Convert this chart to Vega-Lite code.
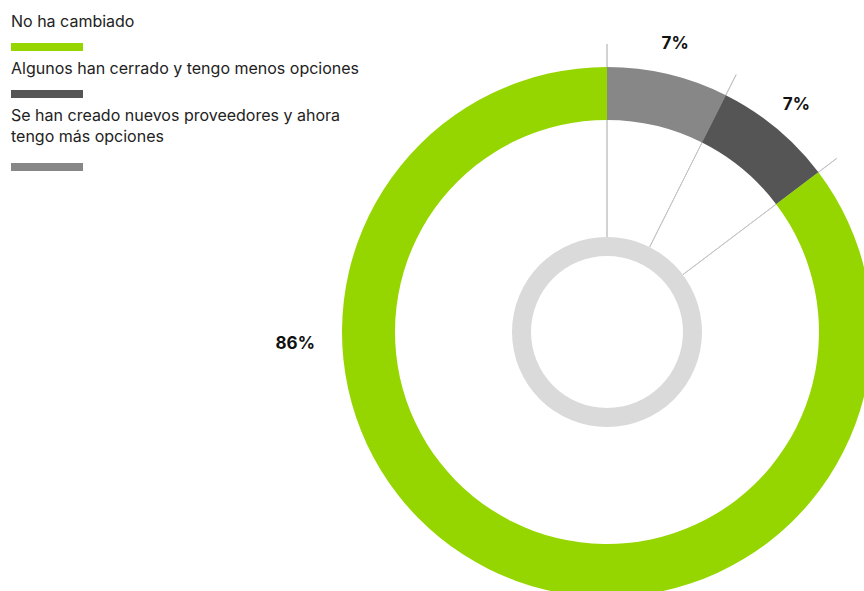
{
  "$schema": "https://vega.github.io/schema/vega-lite/v6.json",
  "width": 514,
  "height": 518,
  "autosize": {"type": "none"},
  "padding": {"left": 350, "top": 73, "right": 0, "bottom": 0},
  "background": "white",
  "config": {"view": {"stroke": null}},
  "data": {
    "values": [
      {"category": "Se han creado nuevos proveedores y ahora tengo más opciones", "share": 0.074, "label": "7%"},
      {"category": "Algunos han cerrado y tengo menos opciones", "share": 0.073, "label": "7%"},
      {"category": "No ha cambiado", "share": 0.853, "label": "86%"}
    ]
  },
  "transform": [{"window": [{"op": "row_number", "as": "rank"}]}],
  "layer": [
    {
      "transform": [{"stack": "share", "groupby": [], "sort": [{"field": "rank", "order": "ascending"}], "as": ["s0", "s1"]}],
      "mark": {"type": "arc", "innerRadius": 95, "outerRadius": 288, "filled": false, "stroke": "#c4c4c4", "strokeWidth": 1},
      "encoding": {
        "theta": {"field": "s0", "type": "quantitative", "scale": {"domain": [0, 1], "nice": false}},
        "theta2": {"field": "s0"}
      }
    },
    {
      "transform": [{"filter": "datum.rank === 1"}],
      "mark": {"type": "arc", "innerRadius": 76, "outerRadius": 95, "theta": 0, "theta2": 6.2832, "fill": "#dadada"},
      "encoding": {}
    },
    {
      "mark": {"type": "arc", "innerRadius": 212, "outerRadius": 265},
      "encoding": {
        "theta": {"field": "share", "type": "quantitative", "stack": true, "scale": {"domain": [0, 1], "nice": false}},
        "order": {"field": "rank", "type": "quantitative"},
        "color": {
          "field": "category",
          "type": "nominal",
          "scale": {
            "domain": ["No ha cambiado", "Algunos han cerrado y tengo menos opciones", "Se han creado nuevos proveedores y ahora tengo más opciones"],
            "range": ["#95d600", "#555555", "#878787"]
          },
          "legend": {
            "orient": "none",
            "legendX": -355,
            "legendY": -59,
            "title": null,
            "padding": 0,
            "symbolSize": 4,
            "symbolStrokeWidth": 0,
            "symbolType": "M 8 21 h 72 v 8 h -72 Z",
            "labelFont": "Inter",
            "labelFontSize": 16,
            "labelColor": "#222222",
            "labelOffset": 0,
            "labelLimit": 0,
            "rowPadding": 10,
            "labelExpr": "datum.value === 'Se han creado nuevos proveedores y ahora tengo más opciones' ? ['Se han creado nuevos proveedores y ahora', 'tengo más opciones'] : datum.label",
            "encode": {
              "symbols": {"update": {"shape": {"signal": "datum.value === 'Se han creado nuevos proveedores y ahora tengo más opciones' ? 'M 8 47 h 72 v 8 h -72 Z' : 'M 8 21 h 72 v 8 h -72 Z'"}}},
              "labels": {"update": {"lineHeight": {"value": 21}}}
            }
          }
        }
      }
    },
    {
      "mark": {"type": "text", "radius": 296, "font": "Inter", "fontSize": 17, "fontWeight": "bold", "color": "#111111"},
      "encoding": {
        "theta": {"field": "share", "type": "quantitative", "stack": true, "scale": {"domain": [0, 1], "nice": false}},
        "order": {"field": "rank", "type": "quantitative"},
        "text": {"field": "label", "type": "nominal", "condition": {"test": "datum.share > 0.5", "value": ""}}
      }
    },
    {
      "transform": [{"filter": "datum.share > 0.5"}],
      "mark": {"type": "text", "radius": 312, "font": "Inter", "fontSize": 17, "fontWeight": "bold", "color": "#111111"},
      "encoding": {
        "theta": {"datum": 0.744, "type": "quantitative", "scale": {"domain": [0, 1], "nice": false}},
        "text": {"field": "label", "type": "nominal"}
      }
    }
  ]
}
